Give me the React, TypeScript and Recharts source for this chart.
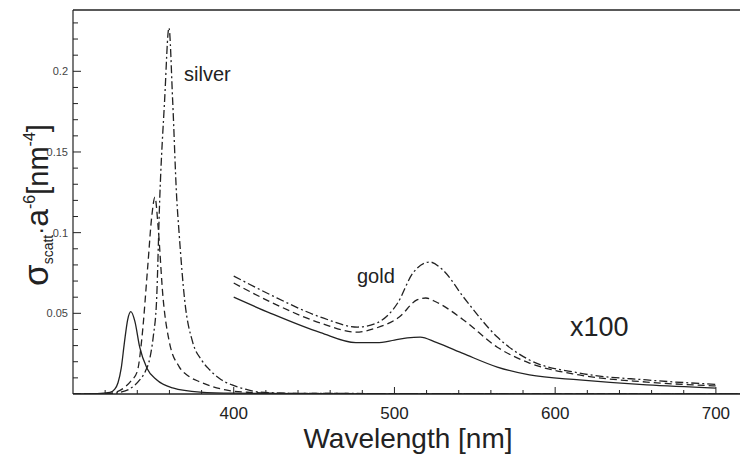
import React from 'react';
import { LineChart, Line, XAxis, YAxis, ReferenceLine } from 'recharts';

const FONT = '"Liberation Sans", Arial, Helvetica, sans-serif';
const INK = '#222';

// silver, three sizes (wavelength nm -> sigma_scatt * a^-6)
const silverSolidWl = [300, 315, 323, 326, 328, 330, 332, 334, 336, 338.5, 341.5, 346, 352, 362, 379, 400, 450, 500, 715];
const silverSolidVal = [0, 0.0002, 0.001, 0.003, 0.007, 0.016, 0.032, 0.046, 0.051, 0.045, 0.029, 0.016, 0.0088, 0.0038, 0.0012, 0.0005, 0.0002, 0.0001, 0];

const silverDashWl = [300, 320, 326, 332, 336, 340, 343, 346.5, 349, 351, 353, 356, 360, 366, 372, 379, 387, 395, 410, 430, 715];
const silverDashVal = [0, 0.0002, 0.001, 0.004, 0.008, 0.014, 0.036, 0.079, 0.11, 0.122, 0.103, 0.06, 0.032, 0.017, 0.011, 0.0075, 0.0045, 0.0025, 0.001, 0.0004, 0];

const silverDotDashWl = [300, 322, 329, 335, 341.5, 345, 348, 350, 352, 354, 357, 359.7, 362, 364.5, 366, 369.5, 374.5, 380, 385, 392, 399, 408, 416, 440, 715];
const silverDotDashVal = [0, 0.0002, 0.001, 0.003, 0.0087, 0.014, 0.023, 0.036, 0.058, 0.122, 0.182, 0.227, 0.182, 0.122, 0.1, 0.058, 0.032, 0.021, 0.015, 0.009, 0.0056, 0.0028, 0.0012, 0.0004, 0];

// gold, same sizes, values already x100
const goldSolidWl = [400, 423, 454, 476, 489, 500, 508, 516, 526, 543, 564, 584, 615, 657, 700];
const goldSolidVal = [0.06, 0.05, 0.038, 0.0318, 0.0318, 0.0334, 0.0348, 0.0353, 0.032, 0.025, 0.0167, 0.0118, 0.0087, 0.0056, 0.0037];

const goldDashWl = [400, 423, 454, 476, 489, 503, 514, 519.5, 526, 543, 564, 584, 615, 657, 700];
const goldDashVal = [0.0688, 0.057, 0.044, 0.0384, 0.041, 0.0477, 0.0583, 0.0595, 0.057, 0.0459, 0.029, 0.0192, 0.0118, 0.0074, 0.005];

const goldDotDashWl = [400, 423, 454, 477, 489, 502, 511.5, 522, 530, 543, 564, 584, 615, 657, 700];
const goldDotDashVal = [0.0731, 0.0614, 0.0477, 0.0415, 0.044, 0.0564, 0.075, 0.0818, 0.077, 0.06, 0.0353, 0.0211, 0.013, 0.0087, 0.006];

const xTicks = [320, 340, 360, 380, 400, 420, 440, 460, 480, 500, 520, 540, 560, 580, 600, 620, 640, 660, 680, 700];
const xLabels = [400, 500, 600, 700];
const yTicks = [0.01, 0.02, 0.03, 0.04, 0.05, 0.06, 0.07, 0.08, 0.09, 0.1, 0.11, 0.12, 0.13, 0.14, 0.15, 0.16, 0.17, 0.18, 0.19, 0.2, 0.21, 0.22, 0.23];
const yLabels = ['0.05', '0.1', '0.15', '0.2'];

const Y_MAX = 0.238;

const toPoints = (wl: number[], val: number[]) => wl.map((w, i) => ({ wl: w, v: val[i] }));

const DASH = '7 4';
const DOT_DASH = '8 3 2 3';

function XTick(props: any) {
  const { x, y, payload } = props;
  const major = xLabels.includes(payload.value);
  return (
    <g>
      <line x1={x} x2={x} y1={y} y2={y - (major ? 7 : 4)} stroke={INK} strokeWidth={1} />
      {major && (
        <text x={x} y={y + 25} textAnchor="middle" fontSize={17} fontFamily={FONT} fill={INK}>
          {payload.value}
        </text>
      )}
    </g>
  );
}

function YTick(props: any) {
  const { x, y, payload } = props;
  const label = String(Math.round(payload.value * 100) / 100);
  const major = yLabels.includes(label);
  return (
    <g>
      <line x1={x} x2={x + (major ? 8 : 5)} y1={y} y2={y} stroke={INK} strokeWidth={1} />
      {major && (
        <text x={x - 5} y={y + 4} textAnchor="end" fontSize={11} fontFamily={FONT} fill="#444">
          {label}
        </text>
      )}
    </g>
  );
}

export default function App() {
  const series = [
    { key: 'ag1', data: toPoints(silverSolidWl, silverSolidVal), dash: undefined },
    { key: 'ag2', data: toPoints(silverDashWl, silverDashVal), dash: DASH },
    { key: 'ag3', data: toPoints(silverDotDashWl, silverDotDashVal), dash: DOT_DASH },
    { key: 'au1', data: toPoints(goldSolidWl, goldSolidVal), dash: undefined },
    { key: 'au2', data: toPoints(goldDashWl, goldDashVal), dash: DASH },
    { key: 'au3', data: toPoints(goldDotDashWl, goldDotDashVal), dash: DOT_DASH },
  ];

  return (
    <div style={{ position: 'absolute', left: 0, top: 0, width: 740, height: 459, background: '#fff' }}>
      <LineChart width={740} height={459} margin={{ top: 10, right: 0, left: 0, bottom: 35 }}>
        <XAxis
          dataKey="wl"
          type="number"
          domain={[300, 715]}
          ticks={xTicks}
          interval={0}
          allowDataOverflow
          tickSize={0}
          tickMargin={0}
          tickLine={false}
          height={30}
          tick={<XTick />}
          axisLine={{ stroke: INK, strokeWidth: 1.6 }}
        />
        <YAxis
          type="number"
          domain={[0, Y_MAX]}
          ticks={yTicks}
          interval={0}
          allowDataOverflow
          tickSize={0}
          tickMargin={0}
          tickLine={false}
          width={73}
          tick={<YTick />}
          axisLine={{ stroke: INK, strokeWidth: 1.2 }}
        />
        <ReferenceLine y={Y_MAX} stroke={INK} strokeWidth={1.5} />
        {series.map((s) => (
          <Line
            key={s.key}
            data={s.data}
            dataKey="v"
            type="monotone"
            dot={false}
            activeDot={false}
            stroke={INK}
            strokeWidth={1.3}
            strokeDasharray={s.dash}
            isAnimationActive={false}
          />
        ))}
      </LineChart>
      <svg
        width={740}
        height={459}
        style={{ position: 'absolute', left: 0, top: 0, pointerEvents: 'none' }}
        fontFamily={FONT}
        fill={INK}
      >
        <text x={184} y={81} fontSize={20}>silver</text>
        <text x={357} y={283} fontSize={20}>gold</text>
        <text x={570} y={336} fontSize={27}>x100</text>
        <text x={408} y={448} fontSize={28} textAnchor="middle">Wavelength [nm]</text>
        <text x={48} y={205} textAnchor="middle" transform="rotate(-90, 48, 205)">
          <tspan fontSize={35}>σ</tspan>
          <tspan fontSize={14} dy={5}>scatt</tspan>
          <tspan fontSize={24} dy={-5}>·</tspan>
          <tspan fontSize={32}>a</tspan>
          <tspan fontSize={16} dy={-13}>-6</tspan>
          <tspan fontSize={29} dy={13}>[nm</tspan>
          <tspan fontSize={16} dy={-13}>-4</tspan>
          <tspan fontSize={29} dy={13}>]</tspan>
        </text>
      </svg>
    </div>
  );
}
